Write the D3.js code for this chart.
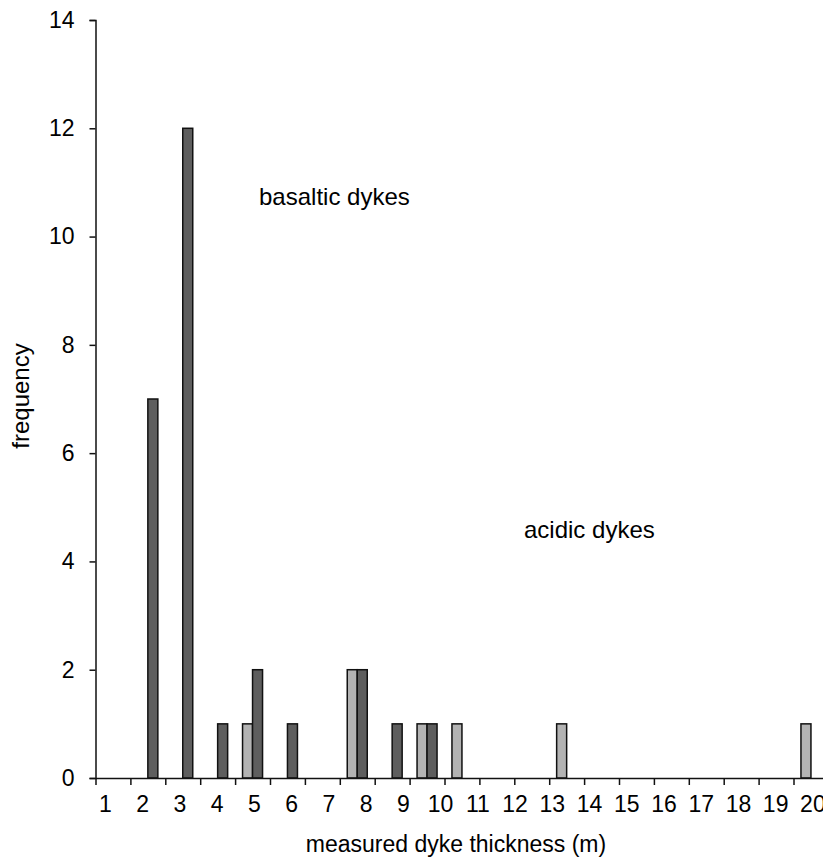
<meta charset='utf-8'>
<script src="https://d3js.org/d3.v7.min.js"></script>
<body style="margin:0; background:#fff"></body>
<script>

// DATA
var bins = [1, 2, 3, 4, 5, 6, 7, 8, 9, 10, 11, 12, 13, 14, 15, 16, 17, 18, 19, 20, 21];
var acidic   = [0, 0, 0, 0, 1, 0, 0, 2, 0, 1, 1, 0, 0, 1, 0, 0, 0, 0, 0, 0, 1];
var basaltic = [0, 7, 12, 1, 2, 1, 0, 2, 1, 1, 0, 0, 0, 0, 0, 0, 0, 0, 0, 0, 0];
var series = ['acidic', 'basaltic'];
var xlabels = [1, 2, 3, 4, 5, 6, 7, 8, 9, 10, 11, 12, 13, 14, 15, 16, 17, 18, 19, 20];
var yticks = [0, 2, 4, 6, 8, 10, 12, 14];

// SETTINGS
var ww = 823;
var wh = 859;
var font = 'Liberation Sans, Arial, sans-serif';
var colors = { acidic: '#b3b3b3', basaltic: '#5e5e5e' };
var x0 = 95.5, y0 = 778, ytop = 20;

var svg = d3.select('body').append('svg')
    .attr('width', ww)
    .attr('height', wh)
    .style('display', 'block');

var rows = bins.map(function (b, i) {
    return { bin: b, acidic: acidic[i], basaltic: basaltic[i] };
});

// SCALES
var x = d3.scaleBand()
    .domain(bins)
    .range([x0, x0 + 34.9 * bins.length]);
var xs = d3.scaleBand()
    .domain(series)
    .range([0, x.bandwidth()])
    .paddingOuter(0.745);
var xedge = d3.scaleLinear()
    .domain([0, bins.length])
    .range(x.range());
var xlab = d3.scalePoint()
    .domain(xlabels)
    .range([105, 812.4]);
var y = d3.scaleLinear()
    .domain([0, 14])
    .range([y0, ytop]);

// BARS
var groups = svg.append('g').selectAll('g')
    .data(rows)
    .enter().append('g')
    .attr('transform', function (d) { return 'translate(' + x(d.bin) + ',0)'; });
groups.selectAll('rect')
    .data(function (d) {
        return series.map(function (s) { return { key: s, value: d[s] }; })
            .filter(function (e) { return e.value > 0; });
    })
    .enter().append('rect')
    .attr('x', function (d) { return xs(d.key); })
    .attr('y', function (d) { return y(d.value); })
    .attr('width', xs.bandwidth())
    .attr('height', function (d) { return y(0) - y(d.value); })
    .attr('fill', function (d) { return colors[d.key]; })
    .attr('stroke', '#111')
    .attr('stroke-width', 1.5);

// AXES
var yaxis = svg.append('g')
    .attr('transform', 'translate(' + x0 + ',0)')
    .call(d3.axisLeft(y).tickValues(yticks).tickSize(6).tickPadding(15));

var xaxis = svg.append('g')
    .attr('transform', 'translate(0,' + y0 + ')')
    .call(d3.axisBottom(xedge).tickValues(d3.range(0, bins.length + 1))
        .tickFormat('').tickSize(7).tickSizeOuter(0));

// labels run on their own spacing, as in the original figure
var xlabaxis = svg.append('g')
    .attr('transform', 'translate(0,' + y0 + ')')
    .call(d3.axisBottom(xlab).tickSize(0).tickPadding(18));
xlabaxis.select('.domain').remove();

svg.selectAll('.domain, .tick line')
    .attr('stroke', '#111')
    .attr('stroke-width', 1.5);
svg.selectAll('.tick text')
    .attr('font-family', font)
    .attr('font-size', 23)
    .attr('fill', '#000');

// TEXTS
svg.append('text')
    .attr('x', 456)
    .attr('y', 852)
    .attr('font-family', font)
    .attr('font-size', 23)
    .attr('text-anchor', 'middle')
    .text('measured dyke thickness (m)');
svg.append('text')
    .attr('transform', 'translate(29,396) rotate(-90)')
    .attr('font-family', font)
    .attr('font-size', 24)
    .attr('text-anchor', 'middle')
    .text('frequency');
svg.append('text')
    .attr('x', 259)
    .attr('y', 205)
    .attr('font-family', font)
    .attr('font-size', 24)
    .text('basaltic dykes');
svg.append('text')
    .attr('x', 524)
    .attr('y', 538)
    .attr('font-family', font)
    .attr('font-size', 24)
    .text('acidic dykes');

</script>
